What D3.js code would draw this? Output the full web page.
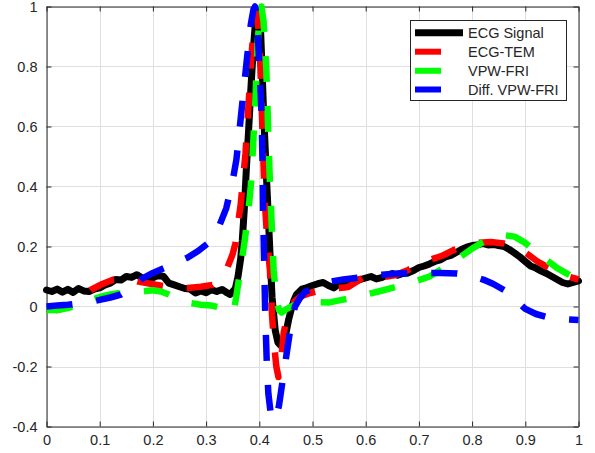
<!DOCTYPE html>
<html><head><meta charset="utf-8">
<script src="https://cdn.jsdelivr.net/npm/d3@7"></script>
<style>
body{margin:0;background:#fff}
svg{display:block}
text{font-family:"Liberation Sans",Arial,Helvetica,sans-serif;fill:#262626}
</style>
</head><body><svg id="c" width="595" height="453"></svg>
<script>
const xTicks=[0,0.1,0.2,0.3,0.4,0.5,0.6,0.7,0.8,0.9,1];
const yTicks=[-0.4,-0.2,0,0.2,0.4,0.6,0.8,1];
const seriesNames=["ECG Signal","ECG-TEM","VPW-FRI","Diff. VPW-FRI"];
const seriesColors=["#000000","#ff0000","#00ff00","#0000ff"];

const ecgSignal=[[0,0.055],[0.01,0.05],[0.02,0.058],[0.03,0.048],[0.04,0.057],[0.05,0.047],[0.06,0.06],[0.07,0.052],[0.08,0.05],[0.09,0.058],[0.10,0.062],[0.11,0.072],[0.12,0.078],[0.13,0.09],[0.14,0.088],[0.15,0.1],[0.16,0.097],[0.17,0.106],[0.18,0.095],[0.19,0.088],[0.20,0.096],[0.21,0.104],[0.22,0.1],[0.23,0.078],[0.24,0.072],[0.25,0.066],[0.26,0.06],[0.27,0.058],[0.28,0.045],[0.29,0.052],[0.30,0.046],[0.31,0.056],[0.32,0.05],[0.33,0.057],[0.34,0.045],[0.345,0.04],[0.35,0.05],[0.355,0.06],[0.36,0.1],[0.365,0.16],[0.368,0.22],[0.372,0.33],[0.376,0.47],[0.38,0.59],[0.384,0.72],[0.388,0.84],[0.392,0.93],[0.396,0.975],[0.399,0.985],[0.402,0.94],[0.405,0.8],[0.408,0.65],[0.413,0.45],[0.419,0.22],[0.424,0.03],[0.43,-0.08],[0.435,-0.12],[0.44,-0.13],[0.445,-0.115],[0.45,-0.09],[0.455,-0.045],[0.46,-0.01],[0.465,0.02],[0.47,0.04],[0.48,0.058],[0.49,0.063],[0.50,0.07],[0.51,0.076],[0.52,0.08],[0.53,0.07],[0.54,0.062],[0.55,0.075],[0.56,0.083],[0.57,0.08],[0.58,0.086],[0.59,0.09],[0.60,0.095],[0.61,0.1],[0.62,0.092],[0.63,0.096],[0.64,0.105],[0.65,0.11],[0.66,0.104],[0.67,0.11],[0.68,0.112],[0.69,0.12],[0.70,0.13],[0.71,0.135],[0.72,0.142],[0.73,0.15],[0.74,0.155],[0.75,0.165],[0.76,0.17],[0.77,0.18],[0.78,0.19],[0.79,0.198],[0.80,0.203],[0.81,0.205],[0.82,0.21],[0.83,0.205],[0.84,0.207],[0.85,0.203],[0.86,0.2],[0.87,0.19],[0.88,0.178],[0.89,0.165],[0.90,0.15],[0.91,0.135],[0.92,0.128],[0.93,0.118],[0.94,0.11],[0.95,0.1],[0.96,0.09],[0.97,0.08],[0.98,0.075],[0.99,0.08],[1.0,0.085]];

const ecgTem=[[0,-0.008],[0.02,-0.012],[0.04,-0.002],[0.06,0.02],[0.083,0.055],[0.105,0.075],[0.126,0.09],[0.15,0.095],[0.173,0.083],[0.2,0.074],[0.22,0.068],[0.24,0.063],[0.265,0.062],[0.29,0.066],[0.312,0.072],[0.33,0.1],[0.34,0.13],[0.35,0.175],[0.355,0.21],[0.358,0.25],[0.365,0.34],[0.374,0.51],[0.379,0.65],[0.385,0.83],[0.39,0.94],[0.395,0.985],[0.4,0.9],[0.403,0.75],[0.406,0.58],[0.41,0.36],[0.415,0.22],[0.42,0.12],[0.424,-0.03],[0.428,-0.13],[0.432,-0.2],[0.436,-0.235],[0.44,-0.2],[0.446,-0.085],[0.452,-0.04],[0.46,0.0],[0.468,0.02],[0.48,0.035],[0.496,0.045],[0.52,0.056],[0.54,0.06],[0.56,0.063],[0.568,0.066],[0.585,0.085],[0.6,0.103],[0.62,0.1],[0.64,0.1],[0.656,0.105],[0.68,0.122],[0.7,0.14],[0.72,0.155],[0.745,0.17],[0.765,0.188],[0.788,0.205],[0.81,0.212],[0.835,0.215],[0.86,0.21],[0.878,0.2],[0.9,0.18],[0.923,0.15],[0.94,0.133],[0.96,0.116],[0.98,0.1],[1.0,0.09]];

const vpwFri=[[0,-0.012],[0.02,-0.012],[0.04,-0.005],[0.06,0.005],[0.08,0.018],[0.1,0.032],[0.12,0.04],[0.14,0.046],[0.16,0.048],[0.18,0.05],[0.2,0.054],[0.215,0.05],[0.23,0.04],[0.25,0.022],[0.27,0.012],[0.29,0.006],[0.31,0.003],[0.33,-0.005],[0.345,-0.02],[0.352,-0.015],[0.356,0.025],[0.36,0.072],[0.366,0.14],[0.373,0.225],[0.379,0.31],[0.384,0.4],[0.388,0.525],[0.393,0.7],[0.397,0.88],[0.401,0.98],[0.404,1.0],[0.408,0.95],[0.413,0.8],[0.416,0.63],[0.419,0.46],[0.423,0.286],[0.427,0.12],[0.432,0.03],[0.437,-0.012],[0.442,-0.02],[0.45,-0.01],[0.46,0.0],[0.47,0.008],[0.484,0.016],[0.5,0.015],[0.53,0.013],[0.555,0.022],[0.577,0.03],[0.6,0.04],[0.624,0.05],[0.65,0.062],[0.671,0.072],[0.7,0.088],[0.72,0.1],[0.74,0.122],[0.76,0.143],[0.78,0.168],[0.8,0.193],[0.82,0.214],[0.84,0.23],[0.86,0.238],[0.88,0.233],[0.9,0.212],[0.923,0.178],[0.94,0.155],[0.96,0.128],[0.98,0.108],[1.0,0.088]];

const diffVpwFri=[[0,0.0],[0.02,0.003],[0.04,0.006],[0.06,0.01],[0.08,0.015],[0.1,0.022],[0.12,0.03],[0.14,0.04],[0.16,0.062],[0.18,0.093],[0.2,0.112],[0.224,0.13],[0.245,0.147],[0.264,0.162],[0.285,0.185],[0.308,0.217],[0.325,0.27],[0.338,0.328],[0.35,0.42],[0.357,0.49],[0.367,0.66],[0.377,0.83],[0.384,0.94],[0.389,0.99],[0.392,1.0],[0.396,0.96],[0.399,0.84],[0.404,0.655],[0.406,0.486],[0.407,0.326],[0.409,0.159],[0.411,-0.016],[0.414,-0.183],[0.417,-0.29],[0.421,-0.35],[0.426,-0.38],[0.431,-0.375],[0.437,-0.33],[0.445,-0.233],[0.452,-0.15],[0.459,-0.067],[0.467,0.0],[0.477,0.03],[0.487,0.05],[0.51,0.067],[0.534,0.083],[0.558,0.09],[0.581,0.095],[0.606,0.101],[0.631,0.106],[0.66,0.11],[0.7,0.112],[0.74,0.112],[0.772,0.11],[0.8,0.102],[0.822,0.089],[0.84,0.075],[0.86,0.055],[0.88,0.025],[0.9,-0.008],[0.92,-0.025],[0.94,-0.035],[0.96,-0.04],[0.98,-0.043],[1.0,-0.045]];

const seriesData=[ecgSignal,ecgTem,vpwFri,diffVpwFri];

const svg=d3.select("#c");
const L=46.5,R=578.5,T=6.5,B=426.5;
const x=d3.scaleLinear().domain([0,1]).range([L,R]);
const y=d3.scaleLinear().domain([-0.4,1]).range([B,T]);
const fmt=d=>String(+d.toFixed(1));

// grid
const grid=svg.append("g").attr("stroke","#dfdfdf").attr("stroke-width",1);
grid.selectAll("line.v").data(xTicks).join("line").attr("class","v")
  .attr("x1",d=>Math.round(x(d))+0.5).attr("x2",d=>Math.round(x(d))+0.5).attr("y1",T).attr("y2",B);
grid.selectAll("line.h").data(yTicks).join("line").attr("class","h")
  .attr("y1",d=>Math.round(y(d))+0.5).attr("y2",d=>Math.round(y(d))+0.5).attr("x1",L).attr("x2",R);

// axes
function styleAxis(g){
  g.selectAll("path.domain").attr("stroke","#262626").attr("stroke-width",1);
  g.selectAll(".tick line").attr("stroke","#262626").attr("stroke-width",1);
  g.selectAll("text").attr("fill","#262626").style("font-size","14.5px").style("font-family","'Liberation Sans',Arial,sans-serif");
}
svg.append("g").attr("transform",`translate(0,${B})`)
  .call(d3.axisBottom(x).tickValues(xTicks).tickFormat(fmt).tickSizeInner(-5).tickSizeOuter(0).tickPadding(8)).call(styleAxis);
svg.append("g").attr("transform",`translate(${L},0)`)
  .call(d3.axisLeft(y).tickValues(yTicks).tickFormat(fmt).tickSizeInner(-5).tickSizeOuter(0).tickPadding(9)).call(styleAxis);
svg.append("g").attr("transform",`translate(0,${T})`)
  .call(d3.axisTop(x).tickValues(xTicks).tickFormat("").tickSizeInner(-5).tickSizeOuter(0)).call(styleAxis);
svg.append("g").attr("transform",`translate(${R},0)`)
  .call(d3.axisRight(y).tickValues(yTicks).tickFormat("").tickSizeInner(-5).tickSizeOuter(0)).call(styleAxis);

// lines
const line=d3.line().x(d=>x(d[0])).y(d=>y(d[1]));
seriesData.forEach((data,i)=>{
  const p=svg.append("path").datum(data).attr("d",line)
    .attr("fill","none").attr("stroke",seriesColors[i]).attr("stroke-width",i===0?7:6.5)
    .attr("stroke-linejoin","round");
  if(i===0){p.attr("stroke-linecap","round");}
  else{p.attr("stroke-dasharray","26,24").attr("stroke-linecap","butt");}
});

// legend
const lg=svg.append("g");
lg.append("rect").attr("x",410.5).attr("y",20.5).attr("width",156).attr("height",80)
  .attr("fill","#fff").attr("stroke","#262626").attr("stroke-width",1);
const rowY=[32.7,51.7,70.8,89.5];
seriesNames.forEach((n,i)=>{
  const ln=lg.append("line").attr("x1",415).attr("x2",463).attr("y1",rowY[i]).attr("y2",rowY[i])
    .attr("stroke",seriesColors[i]).attr("stroke-width",i===0?7:6);
  if(i>0) ln.attr("x2",441);
  lg.append("text").attr("x",468).attr("y",rowY[i]).attr("dy","0.35em")
    .style("font-size","14.5px").text(n);
});
</script>
</body></html>
